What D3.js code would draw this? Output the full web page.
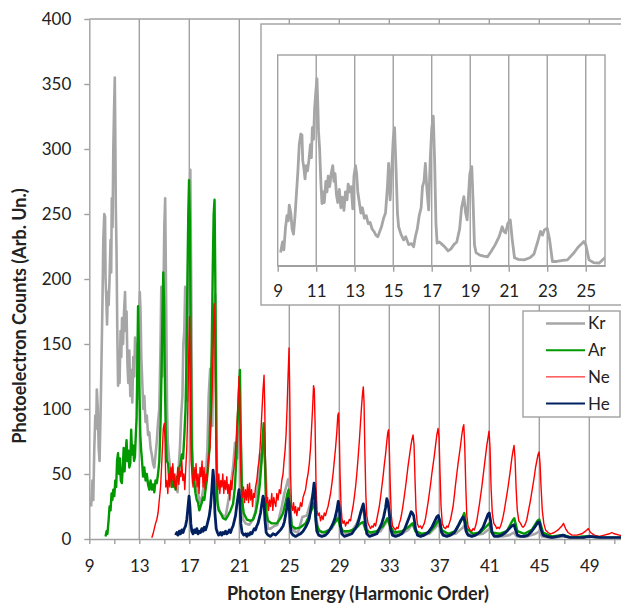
<!DOCTYPE html>
<html>
<head>
<meta charset="utf-8">
<script src="https://cdn.jsdelivr.net/npm/d3@7"></script>
<style>
	body { margin: 0; background: #fff; }
	svg { display: block; }
</style>
</head>
<body>
<div id="chart"></div>
<script>
window.document.title = 'Photoelectron spectra'

const fullWidth = 621
const fullHeight = 603
const fontFamily = 'Lato, "Open Sans", sans-serif'

// tick labels
const yTicks = [0, 50, 100, 150, 200, 250, 300, 350, 400]
const xTickMarks = [9, 11, 13, 15, 17, 19, 21, 23, 25, 27, 29, 31, 33, 35, 37, 39, 41, 43, 45, 47, 49, 51, 53]
const xTickLabels = [9, 13, 17, 21, 25, 29, 33, 37, 41, 45, 49]
const xGrid = [13, 17, 21, 25, 29, 33, 37, 41, 45, 49, 53]
const insetTicks = [9, 11, 13, 15, 17, 19, 21, 23, 25]

// series: [harmonic order, counts]
const kr = [[9.15,25],[9.25,45],[9.32,30],[9.4,70],[9.48,95],[9.55,85],[9.6,115],[9.68,100],[9.75,70],[9.82,60],[9.9,95],[9.98,140],[10.05,180],[10.12,230],[10.2,250],[10.26,248],[10.3,200],[10.36,185],[10.42,165],[10.48,190],[10.55,180],[10.62,200],[10.7,230],[10.75,205],[10.8,262],[10.86,240],[10.92,300],[10.98,330],[11.04,355],[11.08,310],[11.12,255],[11.18,220],[11.24,160],[11.3,118],[11.36,140],[11.42,120],[11.5,160],[11.56,140],[11.62,170],[11.7,150],[11.78,175],[11.86,190],[11.92,160],[11.98,175],[12.05,135],[12.12,120],[12.2,145],[12.28,110],[12.36,130],[12.44,105],[12.52,140],[12.6,125],[12.66,155],[12.74,140],[12.82,150],[12.9,108],[12.96,170],[13.04,190],[13.1,175],[13.16,140],[13.24,120],[13.32,100],[13.4,110],[13.5,90],[13.6,95],[13.7,80],[13.8,82],[13.9,70],[14.0,65],[14.1,58],[14.2,55],[14.3,65],[14.4,75],[14.5,90],[14.6,100],[14.7,150],[14.76,194],[14.84,125],[14.92,180],[15.0,240],[15.07,262],[15.15,180],[15.22,100],[15.28,74],[15.4,60],[15.54,49],[15.65,55],[15.8,40],[15.95,42],[16.06,36],[16.15,55],[16.25,70],[16.35,95],[16.45,110],[16.52,150],[16.6,160],[16.67,194],[16.74,150],[16.84,106],[16.92,200],[17.0,260],[17.08,284],[17.15,200],[17.22,80],[17.28,43],[17.4,45],[17.55,40],[17.7,35],[17.85,28],[18.0,32],[18.15,40],[18.3,45],[18.45,70],[18.55,110],[18.67,131],[18.76,100],[18.84,87],[18.92,140],[18.98,175],[19.08,188],[19.15,120],[19.22,40],[19.3,25],[19.5,20],[19.7,18],[19.9,17],[20.1,28],[20.3,40],[20.5,55],[20.66,74],[20.75,65],[20.84,62],[20.95,80],[21.08,87],[21.18,50],[21.3,15],[21.5,12],[21.8,11],[22.1,15],[22.31,22],[22.5,45],[22.65,65],[22.75,58],[22.85,68],[23.0,71],[23.12,50],[23.27,8],[23.5,8],[23.8,10],[24.05,11],[24.4,25],[24.6,35],[24.8,42],[24.9,46],[25.0,40],[25.17,11],[25.4,6],[25.7,5],[26.05,17],[26.4,18],[26.7,28],[26.9,35],[27.0,38],[27.1,20],[27.3,8],[27.6,5],[28.0,6],[28.4,8],[28.7,14],[28.9,18],[29.0,16],[29.2,6],[29.6,4],[30.0,6],[30.4,12],[30.7,20],[30.9,24],[31.05,15],[31.3,5],[31.8,4],[32.3,6],[32.7,12],[32.95,15],[33.1,8],[33.4,4],[34.0,4],[34.5,7],[34.9,12],[35.1,6],[35.5,3],[36.2,4],[36.7,9],[36.95,12],[37.15,5],[37.6,3],[38.3,4],[38.8,8],[39.0,10],[39.2,4],[39.8,3],[40.5,4],[40.9,7],[41.05,8],[41.3,3],[42.0,2],[42.6,3],[42.95,5],[43.2,2],[44.0,2],[44.7,4],[45.0,6],[45.2,2],[46.0,1],[47.0,2],[48.0,1],[49.0,2],[50.0,1],[51.0,1],[52.5,1]]

const ar = [[10.3,2],[10.38,6],[10.45,4],[10.55,15],[10.62,25],[10.7,22],[10.78,35],[10.85,30],[10.92,38],[11.0,33],[11.08,45],[11.15,40],[11.22,60],[11.3,66],[11.38,50],[11.45,62],[11.52,45],[11.6,43],[11.68,55],[11.75,70],[11.82,52],[11.9,65],[11.98,76],[12.05,60],[12.12,68],[12.2,55],[12.28,58],[12.35,84],[12.42,65],[12.5,72],[12.58,60],[12.65,63],[12.72,80],[12.78,92],[12.84,130],[12.9,179],[12.96,150],[13.02,110],[13.08,80],[13.15,68],[13.22,60],[13.3,48],[13.4,55],[13.5,45],[13.6,50],[13.7,42],[13.8,38],[13.9,45],[14.0,38],[14.1,42],[14.2,36],[14.3,45],[14.4,43],[14.5,50],[14.6,60],[14.7,90],[14.78,130],[14.85,170],[14.92,205],[14.98,180],[15.05,120],[15.12,80],[15.2,60],[15.3,58],[15.4,45],[15.5,50],[15.6,40],[15.7,45],[15.8,43],[15.9,38],[16.0,48],[16.1,45],[16.2,55],[16.3,58],[16.4,65],[16.5,62],[16.6,79],[16.7,100],[16.78,140],[16.85,200],[16.92,250],[16.98,276],[17.05,240],[17.12,150],[17.2,70],[17.3,48],[17.4,43],[17.5,35],[17.6,30],[17.7,28],[17.8,22],[17.9,25],[18.0,28],[18.1,32],[18.2,30],[18.3,38],[18.4,45],[18.5,55],[18.6,68],[18.7,100],[18.8,150],[18.88,210],[18.95,250],[19.02,261],[19.08,200],[19.15,80],[19.22,30],[19.35,22],[19.5,20],[19.7,16],[19.9,15],[20.1,18],[20.3,22],[20.5,27],[20.65,40],[20.75,60],[20.85,85],[20.95,110],[21.05,130],[21.12,80],[21.22,30],[21.35,20],[21.6,15],[21.9,14],[22.1,15],[22.3,20],[22.5,30],[22.65,43],[22.78,60],[22.88,80],[22.95,89],[23.05,60],[23.15,20],[23.3,14],[23.6,12],[24.0,12],[24.3,16],[24.5,20],[24.7,28],[24.85,35],[24.95,38],[25.05,25],[25.2,10],[25.5,8],[25.9,9],[26.3,12],[26.6,18],[26.85,24],[27.0,28],[27.15,12],[27.4,6],[27.8,5],[28.2,7],[28.6,12],[28.9,16],[29.05,10],[29.3,6],[29.8,6],[30.3,8],[30.7,12],[30.9,13],[31.1,7],[31.5,5],[32.0,6],[32.5,10],[32.85,16],[33.05,10],[33.4,5],[34.0,6],[34.5,9],[34.85,12],[35.1,6],[35.6,4],[36.2,5],[36.7,11],[36.95,15],[37.2,7],[37.7,4],[38.3,6],[38.8,15],[39.0,20],[39.2,8],[39.7,4],[40.3,5],[40.8,10],[41.0,12],[41.2,5],[41.8,4],[42.4,6],[42.85,14],[43.0,16],[43.25,6],[43.8,4],[44.4,7],[44.85,14],[45.0,15],[45.3,5],[46.0,2],[46.8,3],[47.0,3],[47.5,1],[48.5,2],[49.0,2],[50.0,1],[51.0,1],[52.5,1]]

const ne = [[14.0,1],[14.1,4],[14.2,8],[14.3,12],[14.4,15],[14.5,20],[14.6,30],[14.7,40],[14.78,55],[14.85,70],[14.92,85],[15.0,89],[15.06,75],[15.12,40],[15.2,45],[15.28,35],[15.36,50],[15.44,40],[15.52,55],[15.6,45],[15.68,58],[15.76,40],[15.84,50],[15.92,38],[16.0,45],[16.08,55],[16.16,42],[16.24,52],[16.32,48],[16.4,60],[16.48,45],[16.56,50],[16.64,38],[16.72,55],[16.8,70],[16.88,100],[16.95,140],[17.02,171],[17.08,120],[17.14,60],[17.22,50],[17.3,40],[17.38,55],[17.46,45],[17.54,58],[17.62,40],[17.7,50],[17.78,35],[17.86,55],[17.94,48],[18.02,60],[18.1,40],[18.18,55],[18.26,38],[18.34,50],[18.42,45],[18.5,58],[18.58,65],[18.66,70],[18.74,90],[18.82,110],[18.9,145],[18.98,181],[19.05,160],[19.12,90],[19.2,45],[19.28,38],[19.36,50],[19.44,35],[19.52,45],[19.6,40],[19.68,50],[19.76,35],[19.84,45],[19.92,38],[20.0,48],[20.08,35],[20.16,42],[20.24,30],[20.32,45],[20.4,38],[20.5,50],[20.58,55],[20.66,63],[20.74,75],[20.82,90],[20.9,105],[20.98,125],[21.04,110],[21.1,60],[21.18,35],[21.26,32],[21.34,40],[21.42,28],[21.5,38],[21.58,30],[21.66,42],[21.74,28],[21.82,43],[21.9,30],[21.98,38],[22.06,25],[22.14,35],[22.22,32],[22.3,40],[22.4,45],[22.5,55],[22.58,60],[22.66,70],[22.74,85],[22.82,100],[22.9,115],[22.98,126],[23.04,100],[23.1,50],[23.18,28],[23.26,32],[23.34,22],[23.42,30],[23.5,25],[23.6,35],[23.68,22],[23.76,32],[23.84,28],[23.92,25],[24.0,35],[24.1,30],[24.2,38],[24.3,35],[24.4,45],[24.5,50],[24.58,60],[24.66,68],[24.74,80],[24.82,100],[24.9,125],[24.98,147],[25.04,110],[25.1,50],[25.18,25],[25.26,22],[25.34,28],[25.42,20],[25.5,25],[25.6,18],[25.7,24],[25.8,22],[25.9,28],[26.0,25],[26.1,32],[26.2,35],[26.3,38],[26.4,45],[26.5,50],[26.6,58],[26.7,70],[26.78,85],[26.86,100],[26.94,118],[27.0,115],[27.06,90],[27.14,40],[27.22,22],[27.3,18],[27.4,20],[27.5,14],[27.6,18],[27.7,15],[27.8,20],[27.9,18],[28.0,22],[28.1,25],[28.2,30],[28.3,35],[28.4,42],[28.5,50],[28.6,60],[28.7,70],[28.8,82],[28.88,95],[28.94,97],[29.0,80],[29.06,50],[29.14,25],[29.22,15],[29.3,12],[29.4,14],[29.5,10],[29.6,13],[29.7,12],[29.8,15],[29.9,14],[30.0,20],[30.1,25],[30.2,32],[30.3,40],[30.4,50],[30.5,62],[30.6,75],[30.7,90],[30.78,102],[30.86,112],[30.92,117],[30.98,105],[31.04,70],[31.12,35],[31.2,18],[31.3,12],[31.4,10],[31.5,8],[31.6,10],[31.7,9],[31.8,12],[31.9,10],[32.0,15],[32.1,20],[32.2,25],[32.3,32],[32.4,40],[32.5,48],[32.6,57],[32.7,65],[32.8,75],[32.88,82],[32.94,84],[33.0,70],[33.08,40],[33.16,18],[33.26,10],[33.4,8],[33.5,7],[33.6,9],[33.7,8],[33.8,12],[33.9,15],[34.0,20],[34.1,26],[34.2,33],[34.3,40],[34.4,48],[34.5,56],[34.6,63],[34.7,70],[34.8,76],[34.9,80],[34.98,72],[35.06,45],[35.14,22],[35.24,12],[35.36,9],[35.5,10],[35.6,8],[35.7,10],[35.8,12],[35.9,16],[36.0,22],[36.1,28],[36.2,35],[36.3,42],[36.4,50],[36.5,57],[36.6,64],[36.7,72],[36.8,80],[36.9,85],[36.98,78],[37.06,50],[37.14,25],[37.24,12],[37.36,9],[37.5,8],[37.6,10],[37.7,9],[37.8,12],[37.9,15],[38.0,20],[38.1,25],[38.2,33],[38.3,42],[38.4,50],[38.5,58],[38.6,65],[38.7,72],[38.8,80],[38.9,86],[38.96,88],[39.04,70],[39.12,40],[39.2,18],[39.3,10],[39.45,7],[39.6,6],[39.7,8],[39.8,7],[39.9,10],[40.0,14],[40.1,20],[40.2,26],[40.3,33],[40.4,40],[40.5,48],[40.6,56],[40.7,64],[40.8,72],[40.9,78],[40.98,83],[41.06,70],[41.14,40],[41.24,20],[41.36,12],[41.5,10],[41.6,8],[41.7,9],[41.8,8],[41.9,10],[42.0,13],[42.1,17],[42.2,22],[42.3,28],[42.4,34],[42.5,40],[42.6,47],[42.7,54],[42.8,62],[42.9,68],[42.98,72],[43.06,62],[43.14,40],[43.24,22],[43.36,14],[43.5,12],[43.6,10],[43.7,9],[43.8,10],[43.9,12],[44.0,15],[44.1,20],[44.2,25],[44.3,30],[44.4,36],[44.5,42],[44.6,48],[44.7,55],[44.8,60],[44.9,65],[44.98,67],[45.06,58],[45.14,40],[45.24,22],[45.36,12],[45.5,7],[45.7,5],[45.9,4],[46.2,5],[46.5,7],[46.8,10],[46.94,12],[47.1,8],[47.3,5],[47.6,3],[48.0,3],[48.4,4],[48.7,6],[48.92,8],[49.1,5],[49.4,3],[49.8,2],[50.2,3],[50.6,4],[50.8,5],[51.0,4],[51.4,3],[51.8,2],[52.5,2]]

const he = [[15.9,3],[16.0,5],[16.1,3],[16.2,6],[16.3,4],[16.4,7],[16.5,5],[16.6,8],[16.7,10],[16.8,15],[16.9,25],[16.98,33],[17.05,25],[17.12,12],[17.2,6],[17.3,4],[17.4,7],[17.5,5],[17.6,8],[17.7,4],[17.8,6],[17.9,5],[18.0,8],[18.1,6],[18.2,9],[18.3,7],[18.4,10],[18.5,14],[18.6,18],[18.7,25],[18.8,38],[18.9,53],[18.97,45],[19.05,20],[19.15,8],[19.25,5],[19.35,3],[19.5,5],[19.6,3],[19.7,5],[19.8,4],[19.9,6],[20.0,4],[20.1,5],[20.2,7],[20.3,5],[20.4,8],[20.5,10],[20.6,14],[20.7,18],[20.8,26],[20.9,33],[20.98,38],[21.05,30],[21.12,12],[21.22,5],[21.35,3],[21.5,4],[21.6,2],[21.7,4],[21.8,3],[21.9,5],[22.0,4],[22.1,6],[22.2,8],[22.3,7],[22.4,10],[22.5,12],[22.6,16],[22.7,20],[22.8,27],[22.9,33],[22.97,30],[23.05,15],[23.15,5],[23.3,3],[23.5,2],[23.7,4],[23.9,3],[24.1,5],[24.3,7],[24.5,10],[24.6,13],[24.7,18],[24.8,24],[24.9,31],[24.98,28],[25.06,12],[25.15,5],[25.3,3],[25.5,2],[25.7,3],[25.9,4],[26.1,6],[26.3,9],[26.5,13],[26.6,16],[26.7,22],[26.8,28],[26.9,36],[26.98,43],[27.04,38],[27.12,15],[27.2,6],[27.35,3],[27.6,2],[27.9,3],[28.1,5],[28.3,8],[28.5,12],[28.65,16],[28.8,22],[28.92,29],[29.0,24],[29.1,10],[29.2,4],[29.4,2],[29.7,3],[30.0,4],[30.2,7],[30.4,10],[30.55,14],[30.7,20],[30.82,24],[30.92,27],[31.0,22],[31.1,10],[31.2,4],[31.4,2],[31.7,3],[32.0,4],[32.2,8],[32.4,12],[32.55,17],[32.7,24],[32.8,31],[32.9,28],[33.0,20],[33.1,8],[33.25,3],[33.5,2],[33.8,3],[34.0,4],[34.2,7],[34.4,12],[34.6,17],[34.75,21],[34.85,20],[34.95,18],[35.1,8],[35.25,3],[35.5,2],[35.8,3],[36.1,5],[36.4,9],[36.6,13],[36.8,17],[36.92,18],[37.05,14],[37.15,6],[37.3,3],[37.6,2],[37.9,3],[38.2,5],[38.5,10],[38.7,14],[38.9,17],[39.0,15],[39.15,6],[39.3,3],[39.6,2],[39.9,3],[40.2,5],[40.5,9],[40.7,14],[40.9,19],[41.0,20],[41.1,14],[41.22,5],[41.4,2],[41.7,2],[42.0,3],[42.3,5],[42.6,8],[42.8,10],[42.98,11],[43.1,7],[43.25,3],[43.5,2],[43.8,2],[44.1,3],[44.4,6],[44.7,10],[44.9,13],[45.0,13],[45.15,7],[45.3,3],[45.6,2],[46.0,1],[46.5,2],[46.9,3],[47.1,2],[47.5,1],[48.5,1],[49.0,2],[50.0,1],[51.0,1],[52.5,1]]

const seriesNames = ['Kr', 'Ar', 'Ne', 'He']
const seriesData = [kr, ar, ne, he]
const seriesColors = ['#a6a6a6', '#009900', '#ff0000', '#002060']
const seriesWidths = [2.6, 2.4, 1.4, 2.8]

const gridColor = '#a0a0a0'

const svg = d3
	.select('#chart')
	.append('svg')
	.attr('width', fullWidth)
	.attr('height', fullHeight)
	.style('font-family', fontFamily)

// main plot
const x = d3.scaleLinear().domain([9, 53]).range([89.3, 639.3])
const y = d3.scaleLinear().domain([0, 400]).range([539, 19])

svg
	.append('defs')
	.append('clipPath')
	.attr('id', 'clip-main')
	.append('rect')
	.attr('x', x(9))
	.attr('y', 0)
	.attr('width', x(53) - x(9))
	.attr('height', y(0))

svg
	.append('g')
	.selectAll('line')
	.data(xGrid)
	.enter()
	.append('line')
	.attr('x1', (d) => x(d))
	.attr('x2', (d) => x(d))
	.attr('y1', y(0))
	.attr('y2', y(400))
	.attr('stroke', gridColor)
	.attr('stroke-width', 1.4)

svg
	.append('line')
	.attr('x1', x(9))
	.attr('x2', x(53))
	.attr('y1', y(400))
	.attr('y2', y(400))
	.attr('stroke', gridColor)
	.attr('stroke-width', 1.4)

const line = d3
	.line()
	.x((d) => x(d[0]))
	.y((d) => y(d[1]))

svg
	.append('g')
	.attr('clip-path', 'url(#clip-main)')
	.selectAll('path')
	.data(seriesData)
	.enter()
	.append('path')
	.attr('d', line)
	.attr('fill', 'none')
	.attr('stroke', (_d, i) => seriesColors[i])
	.attr('stroke-width', (_d, i) => seriesWidths[i])
	.attr('stroke-linejoin', 'round')

const styleAxis = (g) => {
	g.select('.domain').attr('stroke', gridColor).attr('stroke-width', 1.4)
	g.selectAll('.tick line').attr('stroke', gridColor).attr('stroke-width', 1.4)
	g.selectAll('.tick text').attr('fill', '#222').attr('font-family', fontFamily)
}

svg
	.append('g')
	.attr('transform', 'translate(0,' + y(0) + ')')
	.call(
		d3
			.axisBottom(x)
			.tickValues(xTickMarks)
			.tickSize(5)
			.tickSizeOuter(0)
			.tickPadding(16)
			.tickFormat((d) => (xTickLabels.includes(d) ? d : ''))
	)
	.attr('font-size', 17)
	.call(styleAxis)

svg
	.append('g')
	.attr('transform', 'translate(' + x(9) + ',0)')
	.call(d3.axisLeft(y).tickValues(yTicks).tickSize(5).tickSizeOuter(0).tickPadding(13))
	.attr('font-size', 17)
	.call(styleAxis)

// axis titles
svg
	.append('text')
	.attr('x', 358)
	.attr('y', 600)
	.attr('text-anchor', 'middle')
	.attr('font-size', 18)
	.attr('font-weight', 'bold')
	.attr('fill', '#222')
	.text('Photon Energy (Harmonic Order)')

svg
	.append('text')
	.attr('transform', 'translate(26,316) rotate(-90)')
	.attr('text-anchor', 'middle')
	.attr('font-size', 18)
	.attr('font-weight', 'bold')
	.attr('fill', '#222')
	.text('Photoelectron Counts (Arb. Un.)')

// inset
const inset = svg.append('g')

inset
	.append('rect')
	.attr('x', 261)
	.attr('y', 24)
	.attr('width', 420)
	.attr('height', 281)
	.attr('fill', '#fff')
	.attr('stroke', gridColor)
	.attr('stroke-width', 1.4)

const ix = d3.scaleLinear().domain([9, 26]).range([277.7, 605])
const iy = d3.scaleLinear().domain([0, 400]).range([265.7, 55])

svg
	.select('defs')
	.append('clipPath')
	.attr('id', 'clip-inset')
	.append('rect')
	.attr('x', ix(9))
	.attr('y', iy(400))
	.attr('width', ix(26) - ix(9))
	.attr('height', iy(0) - iy(400))

inset
	.append('g')
	.selectAll('line')
	.data(insetTicks.filter((d) => d > 9))
	.enter()
	.append('line')
	.attr('x1', (d) => ix(d))
	.attr('x2', (d) => ix(d))
	.attr('y1', iy(0))
	.attr('y2', iy(400))
	.attr('stroke', gridColor)
	.attr('stroke-width', 1.4)

inset
	.append('rect')
	.attr('x', ix(9))
	.attr('y', iy(400))
	.attr('width', ix(26) - ix(9))
	.attr('height', iy(0) - iy(400))
	.attr('fill', 'none')
	.attr('stroke', gridColor)
	.attr('stroke-width', 1.4)

const insetLine = d3
	.line()
	.x((d) => ix(d[0]))
	.y((d) => iy(d[1]))

inset
	.append('path')
	.datum(kr.filter((d) => d[0] <= 26.5))
	.attr('clip-path', 'url(#clip-inset)')
	.attr('d', insetLine)
	.attr('fill', 'none')
	.attr('stroke', seriesColors[0])
	.attr('stroke-width', 2.8)
	.attr('stroke-linejoin', 'round')

inset
	.append('g')
	.attr('transform', 'translate(0,' + iy(0) + ')')
	.call(d3.axisBottom(ix).tickValues(insetTicks).tickSize(6).tickSizeOuter(0).tickPadding(13))
	.attr('font-size', 17)
	.call(styleAxis)

// legend
const legend = svg.append('g').attr('transform', 'translate(523,311)')

legend
	.append('rect')
	.attr('width', 97)
	.attr('height', 106)
	.attr('fill', '#fff')
	.attr('stroke', gridColor)
	.attr('stroke-width', 1.4)

const legendItem = legend
	.selectAll('.item')
	.data(seriesNames)
	.enter()
	.append('g')
	.attr('class', 'item')
	.attr('transform', (_d, i) => 'translate(0,' + (12.5 + i * 26.7) + ')')

legendItem
	.append('line')
	.attr('x1', 23)
	.attr('x2', 62)
	.attr('stroke', (_d, i) => seriesColors[i])
	.attr('stroke-width', (_d, i) => [2.6, 2, 1, 2][i])

legendItem
	.append('text')
	.attr('x', 65)
	.attr('dy', '0.35em')
	.attr('font-size', 17)
	.attr('fill', '#222')
	.text((d) => d)
</script>
</body>
</html>
